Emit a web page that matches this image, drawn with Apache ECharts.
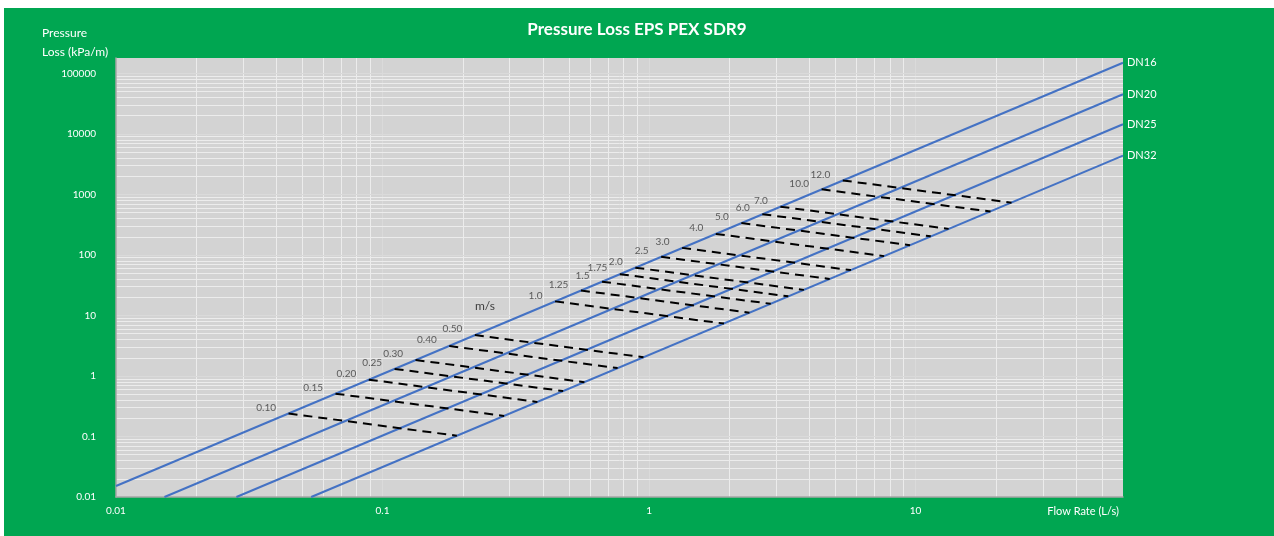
<!DOCTYPE html>
<html><head><meta charset="utf-8">
<script src="https://cdn.jsdelivr.net/npm/echarts@6/dist/echarts.min.js"></script>
<style>
html,body{margin:0;padding:0;background:#fff;width:1274px;height:536px;overflow:hidden}
#bg{position:absolute;left:4px;top:8px;width:1270px;height:528px;background:#00a651}
#chart{position:absolute;left:0;top:0;width:1274px;height:536px}
</style></head><body><div id="bg"></div><div id="chart"></div>
<script>
// ---- data ----
const pipeNames = ['DN16', 'DN20', 'DN25', 'DN32'];
const pipeFlowStart = [0.01, 0.0152, 0.0283, 0.054];
const pipeLossStart = [0.0152, 0.01, 0.01, 0.01];
const pipeFlowEnd = [60, 60, 60, 60];
const pipeLossEnd = [150000, 45300, 14450, 4380];

const velocityLabels = ['0.10','0.15','0.20','0.25','0.30','0.40','0.50','1.0','1.25','1.5','1.75','2.0','2.5','3.0','4.0','5.0','6.0','7.0','10.0','12.0'];
const velFlowDN16 = [0.0444,0.0666,0.0888,0.111,0.133,0.178,0.222,0.444,0.555,0.666,0.777,0.888,1.11,1.33,1.78,2.22,2.66,3.11,4.44,5.33];
const velLossDN16 = [0.24,0.51,0.87,1.31,1.84,3.13,4.74,17.1,25.9,36.2,48.2,61.7,93.3,131,223,337,472,628,1216,1705];
const velFlowDN32 = [0.19,0.286,0.381,0.476,0.572,0.762,0.953,1.91,2.38,2.86,3.33,3.81,4.76,5.72,7.62,9.53,11.4,13.3,19.1,22.9];
const velLossDN32 = [0.103,0.219,0.373,0.564,0.79,1.35,2.04,7.35,11.1,15.6,20.7,26.5,40.1,56.2,95.7,145,203,270,522,732];

const xTickLabels = ['0.01', '0.1', '1', '10'];
const yTickLabels = ['0.01', '0.1', '1', '10', '100', '1000', '10000', '100000'];
const xMin = 0.01, xMax = 60, yMin = 0.01, yMax = 180000;

// ---- build ----
const FONT = 'Lato';
function powLabel(v, labels, minExp) {
  const l = Math.log10(v), e = Math.round(l);
  if (Math.abs(l - e) > 1e-6) return '';
  return labels[e - minExp] || '';
}

const gridLines = [];
for (let e = -2; e <= 1; e++) {
  for (let m = 1; m <= 9; m++) {
    const v = m * Math.pow(10, e);
    if (v <= xMin || v >= xMax) continue;
    gridLines.push({xAxis: v, lineStyle: {color: m === 1 ? '#dadada' : '#ececec', width: 1, type: 'solid'}});
  }
}
for (let e = -2; e <= 5; e++) {
  for (let m = 1; m <= 9; m++) {
    const v = m * Math.pow(10, e);
    if (v <= yMin || v >= yMax) continue;
    gridLines.push({yAxis: v, lineStyle: {color: m === 1 ? '#dadada' : '#ececec', width: 1, type: 'solid'}});
  }
}

const series = [];
series.push({
  type: 'line', name: 'grid', data: [[1, 1]], symbol: 'none', z: 0, silent: true,
  lineStyle: {width: 0},
  markLine: {silent: true, z: 0, symbol: ['none', 'none'], label: {show: false}, animation: false, data: gridLines}
});

pipeNames.forEach((n, i) => {
  series.push({
    type: 'line', name: n, z: 3,
    data: [[pipeFlowStart[i], pipeLossStart[i]], [pipeFlowEnd[i], pipeLossEnd[i]]],
    symbol: 'none', lineStyle: {color: '#4472c4', width: 2},
    endLabel: {show: true, formatter: '{a}', color: '#ffffff', fontSize: 11, fontFamily: FONT, distance: 4}
  });
});

velocityLabels.forEach((lbl, i) => {
  series.push({
    type: 'line', name: 'v' + lbl, z: 4,
    data: [[velFlowDN16[i], velLossDN16[i]], [velFlowDN32[i], velLossDN32[i]]],
    symbol: 'none', lineStyle: {color: '#000000', width: 2, type: [9, 6]}
  });
});

series.push({
  type: 'scatter', name: 'labels', z: 5, symbolSize: 1, silent: true,
  data: velFlowDN16.map((q, i) => [q, velLossDN16[i]]),
  itemStyle: {color: 'rgba(0,0,0,0)'},
  label: {show: true, position: 'left', distance: 12, offset: [0, -6], color: '#3a3a3a', fontSize: 10, fontFamily: FONT,
    formatter: p => velocityLabels[p.dataIndex]}
});

const chart = echarts.init(document.getElementById('chart'), null, {renderer: 'canvas'});
chart.setOption({
  animation: false,
  backgroundColor: 'transparent',
  title: {text: 'Pressure Loss EPS PEX SDR9', left: 'center', top: 16,
    textStyle: {color: '#ffffff', fontSize: 17, fontWeight: 'bold', fontFamily: FONT}},
  grid: {left: 116, right: 151, top: 58, bottom: 39, show: true, backgroundColor: '#d3d3d3', borderWidth: 0},
  xAxis: {
    type: 'log', logBase: 10, min: xMin, max: xMax,
    axisLine: {show: true, lineStyle: {color: '#a6a6a6', width: 1.5}},
    axisTick: {show: false}, splitLine: {show: false}, minorSplitLine: {show: false},
    axisLabel: {color: '#ffffff', fontSize: 10, fontFamily: FONT, margin: 9, showMaxLabel: false,
      formatter: v => powLabel(v, xTickLabels, -2)}
  },
  yAxis: {
    type: 'log', logBase: 10, min: yMin, max: yMax,
    axisLine: {show: true, lineStyle: {color: '#a6a6a6', width: 1.5}},
    axisTick: {show: false}, splitLine: {show: false},
    axisLabel: {color: '#ffffff', fontSize: 10, fontFamily: FONT, margin: 20, showMaxLabel: false,
      formatter: v => powLabel(v, yTickLabels, -2)}
  },
  graphic: [
    {type: 'text', left: 42, top: 27, style: {text: 'Pressure', fill: '#ffffff', font: '12px ' + FONT}},
    {type: 'text', left: 42, top: 46, style: {text: 'Loss (kPa/m)', fill: '#ffffff', font: '12px ' + FONT}},
    {type: 'text', left: 475, top: 300, style: {text: 'm/s', fill: '#404040', font: '12px ' + FONT}},
    {type: 'text', right: 155, top: 506, style: {text: 'Flow Rate (L/s)', fill: '#ffffff', font: '11px ' + FONT}}
  ],
  series: series
});
</script></body></html>
